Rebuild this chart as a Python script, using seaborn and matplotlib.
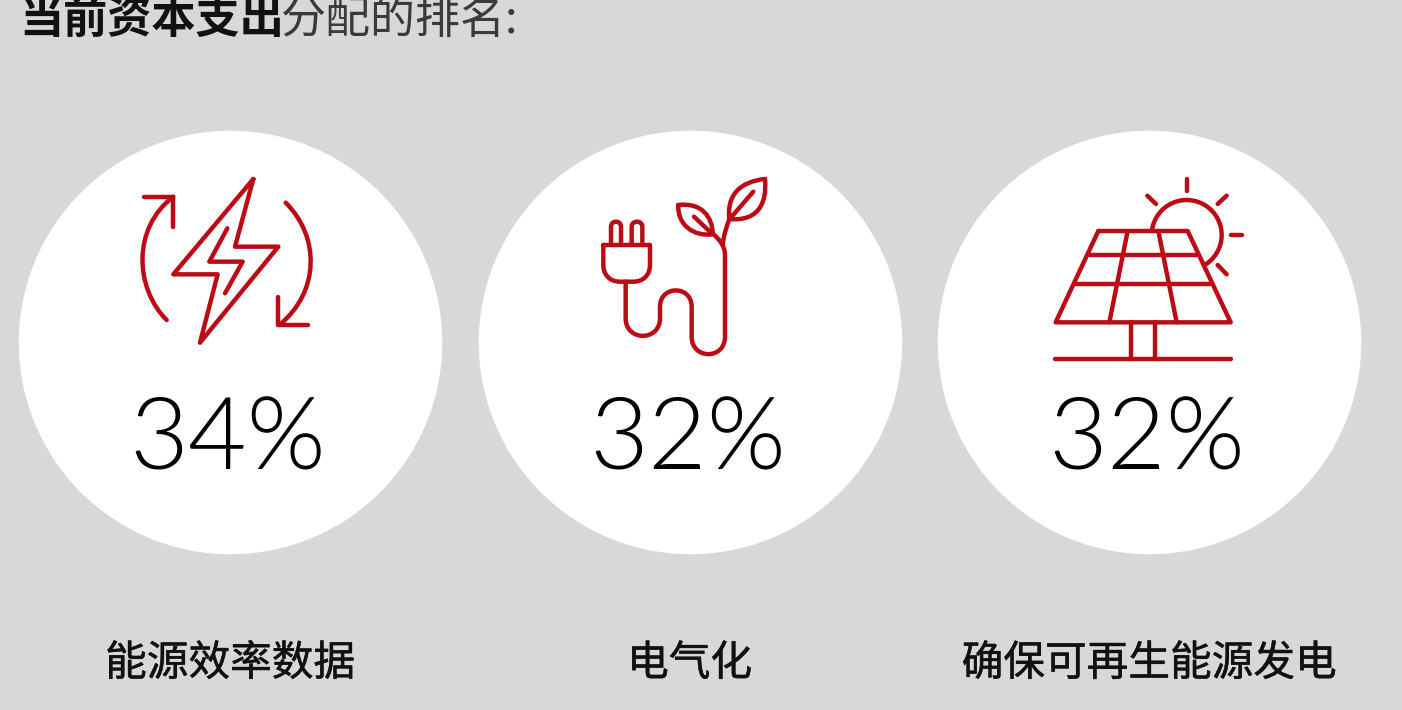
import numpy as np
import pandas as pd
import seaborn as sns
import matplotlib.pyplot as plt
import matplotlib.patheffects as pe
from matplotlib.path import Path
from matplotlib.patches import PathPatch

# data
shares = [34, 32, 32]
categories = ['能源效率数据', '电气化', '确保可再生能源发电']
title_bold = '当前资本支出'
title_light = '分配的排名:'

BG = '#d8d8d6'
RED = '#bd0b15'
M, L, C = Path.MOVETO, Path.LINETO, Path.CURVE4


def ax_path(ax, x0, y0, verts, codes=None, closed=False):
    # icon coordinates are measured at 3x, origin is the icon corner
    pts = [(x0 + x / 3, y0 + y / 3) for x, y in verts]
    if codes is None:
        codes = [M] + [L] * (len(pts) - 1)
    if closed:
        pts.append(pts[0])
        codes = list(codes) + [L]
    ax.add_patch(PathPatch(Path(pts, codes), fill=False, edgecolor=RED, lw=3.2,
                           capstyle='round', joinstyle='round', zorder=3))


def icon_bolt(ax):
    x0, y0 = 120, 165
    ax_path(ax, x0, y0, [(400, 42), (345, 245), (475, 245), (240, 533), (293, 328), (160, 328)], closed=True)
    ax_path(ax, x0, y0, [(322, 190), (268, 290), (368, 290), (315, 385)])
    ax_path(ax, x0, y0, [(140, 465), (45, 370), (35, 190), (160, 95)], [M, C, C, C])
    ax_path(ax, x0, y0, [(73, 95), (160, 95), (160, 185)])
    ax_path(ax, x0, y0, [(497, 113), (600, 215), (600, 380), (478, 480)], [M, C, C, C])
    ax_path(ax, x0, y0, [(475, 395), (475, 480), (563, 480)])


def icon_plug(ax):
    x0, y0 = 590, 165
    ax_path(ax, x0, y0, [(40, 240), (180, 240), (180, 300), (180, 330), (160, 350), (130, 350),
                         (90, 350), (60, 350), (40, 330), (40, 300), (40, 240)],
            [M, L, L, C, C, C, L, C, C, C, L])
    ax_path(ax, x0, y0, [(63, 240), (63, 185), (63, 165), (93, 165), (93, 185), (93, 240)], [M, L, C, C, C, L])
    ax_path(ax, x0, y0, [(125, 240), (125, 185), (125, 165), (157, 165), (157, 185), (157, 240)], [M, L, C, C, C, L])
    # cord and stem
    ax_path(ax, x0, y0, [(107, 350), (107, 460), (107, 530), (210, 530), (210, 460), (210, 425),
                         (210, 360), (305, 360), (305, 425), (305, 515), (305, 585), (405, 585), (405, 515),
                         (405, 270), (405, 245), (390, 225), (368, 205)],
            [M, L, C, C, C, L, C, C, C, L, C, C, C, L, C, C, C])
    ax_path(ax, x0, y0, [(398, 240), (402, 205), (410, 185), (418, 162)], [M, C, C, C])
    ax_path(ax, x0, y0, [(265, 120), (335, 112), (368, 155), (368, 208), (310, 215), (262, 180), (265, 120)],
            [M, C, C, C, C, C, C])
    ax_path(ax, x0, y0, [(312, 155), (365, 205)])
    ax_path(ax, x0, y0, [(525, 42), (450, 50), (410, 90), (418, 162), (500, 170), (532, 120), (525, 42)],
            [M, C, C, C, C, C, C])
    ax_path(ax, x0, y0, [(490, 80), (425, 155)])


def icon_solar(ax):
    x0, y0 = 1040, 165
    ax_path(ax, x0, y0, [(175, 198), (443, 198), (572, 472), (47, 472)], closed=True)
    for seg in [[(150, 270), (470, 270)], [(105, 358), (510, 358)],
                [(263, 198), (208, 472)], [(355, 198), (410, 472)],
                [(272, 472), (272, 582)], [(346, 472), (346, 582)], [(45, 582), (573, 582)],
                [(440, 42), (440, 78)], [(322, 92), (348, 117)], [(560, 92), (533, 117)],
                [(572, 209), (607, 209)], [(533, 300), (560, 328)]]:
        ax_path(ax, x0, y0, seg)
    t = np.radians(np.linspace(188, 419, 50))
    ax_path(ax, x0, y0, list(zip(440 + 105 * np.cos(t), 210 + 105 * np.sin(t))))


sns.set_theme(style='white')
plt.rcParams['font.family'] = ['Noto Sans CJK SC', 'DejaVu Sans']

fig = plt.figure(figsize=(14.02, 7.10), dpi=100, facecolor=BG)
ax = fig.add_axes([0, 0, 1, 1])
ax.set_facecolor(BG)

df = pd.DataFrame({'category': categories, 'share': shares})
df['x'] = 230 + 459.5 * df.index
df['y'] = 342
sns.scatterplot(data=df, x='x', y='y', s=(423.5 * 0.72) ** 2, color='white',
                linewidth=0, legend=False, ax=ax, zorder=1)

ax.set_xlim(0, 1402)
ax.set_ylim(710, 0)
ax.axis('off')

icon_bolt(ax)
icon_plug(ax)
icon_solar(ax)

for _, row in df.iterrows():
    ax.text(row['x'] - 2, 470, f"{row['share']}%", family='Lato', weight=300, fontsize=73,
            color='black', ha='center', va='baseline', zorder=4)
    ax.text(row['x'], 664, row['category'], fontsize=30, color='#111111', ha='center', va='center', zorder=4,
            path_effects=[pe.withStroke(linewidth=0.35, foreground='#111111')])

ax.text(19, 33, title_bold, fontsize=31.8, weight='bold', color='#111111', va='baseline')
ax.text(280, 33, title_light, fontsize=32.4, weight='light', color='#3a3a3a', va='baseline')

fig.savefig('out.png', dpi=100, facecolor=BG)
